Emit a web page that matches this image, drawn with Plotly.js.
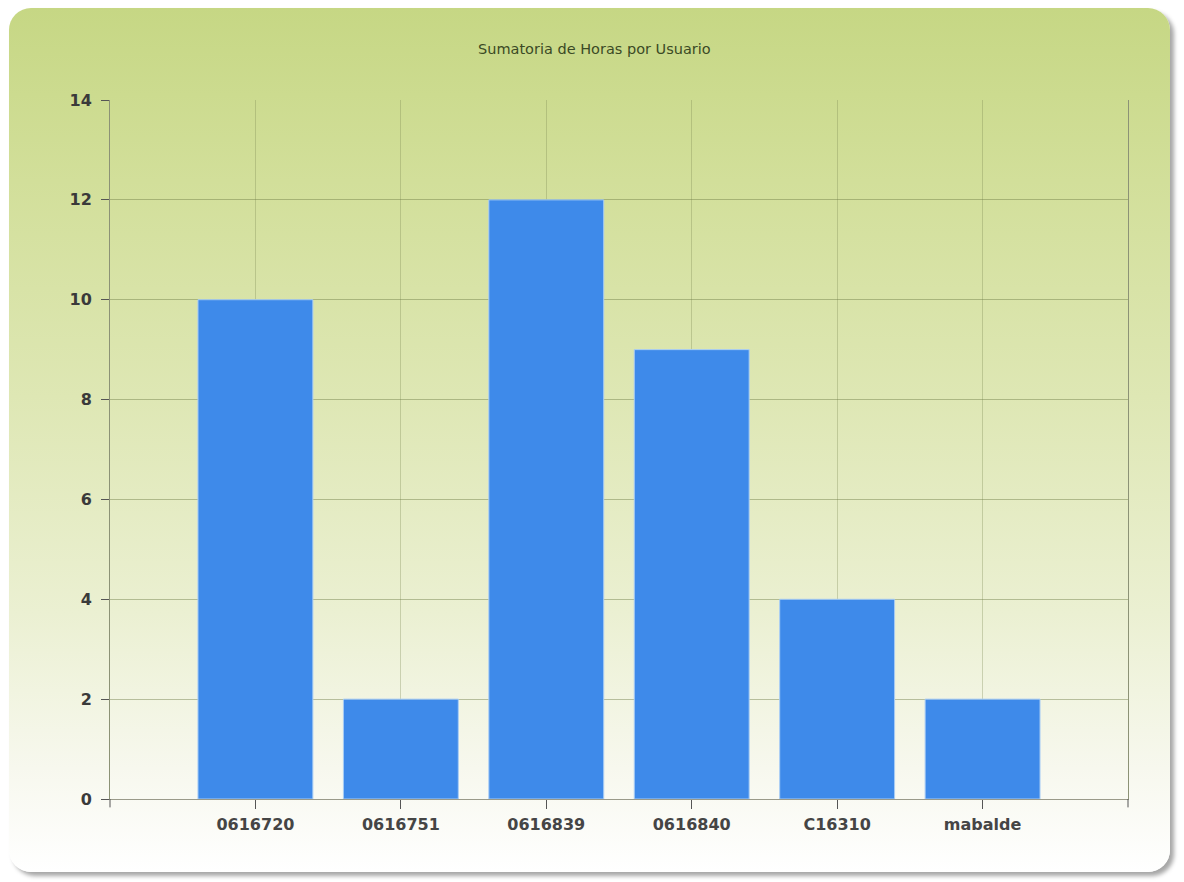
<!DOCTYPE html>
<html>
<head>
<meta charset="utf-8">
<script src="https://cdn.plot.ly/plotly-3.0.1.min.js"></script>
<style>
  html, body { margin: 0; padding: 0; width: 1184px; height: 882px; background: #ffffff; overflow: hidden; }
  #panel {
    position: absolute; left: 9px; top: 8px; width: 1161px; height: 864px;
    border-radius: 22px;
    background: linear-gradient(to bottom, #c6d784 0%, #d2df9a 20%, #dee7b4 45%, #ebf0d2 70%, #f7f8ee 88%, #ffffff 100%);
    box-shadow: 4px 4px 4px rgba(0,0,0,0.35);
  }
  #chart { position: absolute; left: 0; top: 0; width: 1184px; height: 882px; }
</style>
</head>
<body>
<div id="panel"></div>
<div id="chart"></div>
<script>
const categories = ["0616720", "0616751", "0616839", "0616840", "C16310", "mabalde"];
const hours = [10, 2, 12, 9, 4, 2];
const yTicks = [0, 2, 4, 6, 8, 10, 12, 14];
const chartTitle = "Sumatoria de Horas por Usuario";

const trace = {
  type: "bar",
  x: categories,
  y: hours,
  width: 0.79,
  marker: { color: "#3e8aea", line: { color: "#a9cdf5", width: 1 } },
  hoverinfo: "x+y"
};

const layout = {
  width: 1184,
  height: 882,
  paper_bgcolor: "rgba(0,0,0,0)",
  plot_bgcolor: "rgba(0,0,0,0)",
  margin: { l: 110, r: 56, t: 100, b: 83 },
  showlegend: false,
  bargap: 0.2,
  title: {
    text: chartTitle,
    x: 0.502, xanchor: "center",
    y: 0.944, yanchor: "middle",
    font: { family: "DejaVu Sans", size: 14.5, color: "#3b4a25" }
  },
  xaxis: {
    type: "category",
    range: [-1, 6],
    showgrid: true,
    gridcolor: "rgba(120,135,80,0.32)",
    gridwidth: 1,
    showline: true,
    linecolor: "#9a9a8a",
    linewidth: 1,
    ticks: "outside",
    ticklen: 9,
    tickcolor: "#555",
    tickfont: { family: "DejaVu Sans", size: 16, color: "#454545", weight: "bold" },
    ticklabelstandoff: 2,
    zeroline: false,
    fixedrange: true
  },
  yaxis: {
    range: [0, 14],
    tickvals: yTicks,
    showgrid: true,
    gridcolor: "rgba(110,125,70,0.45)",
    gridwidth: 1,
    showline: true,
    mirror: true,
    linecolor: "#8c9276",
    linewidth: 1,
    ticks: "outside",
    ticklen: 8,
    tickcolor: "#555",
    tickfont: { family: "DejaVu Sans", size: 16, color: "#3a3a3a", weight: "bold" },
    ticklabelstandoff: 6,
    zeroline: false,
    fixedrange: true
  },
  shapes: [
    { type: "line", xref: "paper", yref: "paper", x0: 0, x1: 0, y0: 0, y1: -0.012, line: { color: "#555", width: 1 } },
    { type: "line", xref: "paper", yref: "paper", x0: 1, x1: 1, y0: 0, y1: -0.012, line: { color: "#555", width: 1 } }
  ]
};

Plotly.newPlot("chart", [trace], layout, { displayModeBar: false, staticPlot: true });
</script>
</body>
</html>
